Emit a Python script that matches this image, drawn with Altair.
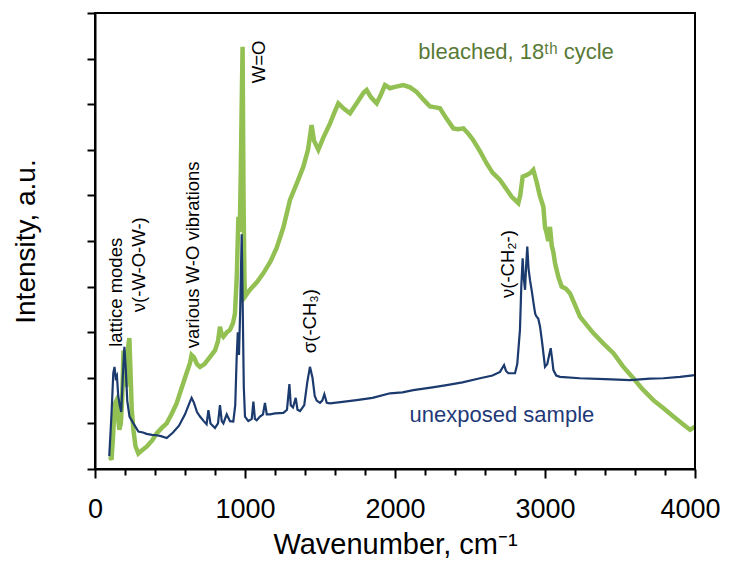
import altair as alt
import pandas as pd

# unexposed sample (navy)
blue_wn = [95,110,122,130,138,146,155,165,175,185,196,205,215,230,256,289,320,344,380,411,440,478,520,560,600,630,644,660,680,700,725,744,756,770,800,820,833,845,856,878,900,922,935,944,952,960,968,978,985,992,1000,1022,1045,1056,1066,1078,1100,1120,1133,1145,1167,1200,1256,1280,1296,1305,1320,1338,1350,1367,1395,1415,1433,1450,1465,1478,1500,1515,1529,1545,1567,1650,1744,1850,1967,2050,2122,2250,2344,2450,2567,2650,2700,2727,2740,2756,2800,2815,2833,2842,2851,2858,2867,2875,2882,2890,2900,2912,2927,2935,2944,2955,2967,2980,3000,3015,3028,3038,3048,3056,3075,3100,3233,3400,3567,3700,3789,3900,4000]
blue_v = [0.28,1.2,2.1,2.24,2.0,2.05,1.6,1.4,1.25,2.0,2.68,2.2,1.5,1.15,1.0,0.82,0.8,0.77,0.75,0.74,0.72,0.68,0.8,0.95,1.2,1.45,1.56,1.45,1.25,1.15,1.05,0.98,1.29,1.0,0.9,1.0,1.4,1.05,1.0,1.2,1.05,1.04,1.4,2.4,3.0,2.5,3.5,5.15,3.5,1.8,1.15,1.05,1.1,1.48,1.1,1.07,1.15,1.2,1.45,1.2,1.2,1.22,1.23,1.3,1.86,1.4,1.35,1.56,1.3,1.27,1.4,1.9,2.24,2.0,1.6,1.5,1.45,1.5,1.64,1.45,1.44,1.47,1.51,1.56,1.66,1.68,1.73,1.79,1.84,1.9,1.99,2.05,2.13,2.28,2.15,2.1,2.1,2.3,3.05,4.0,4.62,4.2,3.93,4.5,4.88,4.4,4.14,3.9,3.56,3.4,3.34,3.3,3.12,2.8,2.24,2.3,2.5,2.65,2.4,2.17,2.05,2.02,1.99,1.97,1.95,1.98,1.99,2.02,2.06]

# bleached, 18th cycle (green)
green_wn = [100,110,120,127,135,144,152,162,172,182,190,198,208,215,222,229,236,245,256,270,289,310,344,380,411,445,478,510,544,570,600,633,644,660,680,700,730,767,800,820,833,845,856,880,900,920,933,945,956,965,972,978,984,990,996,1000,1033,1080,1122,1170,1211,1256,1300,1350,1389,1420,1444,1460,1489,1520,1567,1600,1622,1660,1700,1750,1790,1811,1840,1878,1905,1933,1967,2000,2056,2100,2144,2190,2233,2270,2300,2340,2389,2420,2456,2490,2522,2570,2611,2650,2700,2740,2778,2800,2822,2835,2851,2880,2905,2922,2944,2965,2989,3000,3011,3022,3033,3045,3056,3067,3090,3111,3140,3167,3200,3233,3280,3322,3390,3456,3520,3589,3650,3722,3790,3856,3920,3967,4000]
green_v = [0.27,0.2,0.7,1.15,1.45,1.51,1.2,0.86,1.0,1.6,2.6,2.3,1.8,2.2,2.7,2.87,2.2,1.3,0.86,0.5,0.34,0.4,0.49,0.62,0.78,0.9,1.0,1.2,1.44,1.7,2.0,2.32,2.5,2.45,2.3,2.24,2.3,2.46,2.6,2.8,3.12,2.95,2.9,3.0,3.05,3.2,3.41,4.2,5.53,5.2,6.5,8.0,9.26,6.0,4.2,3.78,3.93,4.1,4.29,4.55,4.85,5.3,5.9,6.3,6.63,7.0,7.54,7.2,7.0,7.25,7.58,7.85,8.02,7.9,7.8,8.05,8.25,8.31,8.15,8.02,8.2,8.42,8.35,8.38,8.42,8.37,8.27,8.1,7.95,7.93,7.91,7.7,7.47,7.45,7.47,7.35,7.21,6.95,6.7,6.5,6.34,6.15,5.97,5.9,5.83,6.0,6.41,6.45,6.5,6.56,6.3,6.0,5.75,5.3,5.17,5.0,5.31,4.9,4.75,4.51,4.2,4.0,3.95,3.85,3.6,3.34,3.15,2.98,2.75,2.54,2.25,1.99,1.75,1.51,1.33,1.15,0.98,0.86,0.93]

# rotated peak annotations (anchor = lower end of text)
ann_text = ["lattice modes", "\u03bd(-W-O-W-)", "various W-O vibrations", "W=O", "\u03c3(-CH\u2083)", "\u03bd(-CH\u2082-)"]
ann_wn = [140, 290, 653, 1093, 1433, 2753]
ann_v = [2.68, 3.44, 2.65, 8.46, 2.54, 3.75]

# series labels
lab_text = ["bleached, 18\u1d57\u02b0 cycle", "unexposed sample"]
lab_wn = [2807, 2713]
lab_v = [9.14, 1.18]
lab_color = ["#587a35", "#1f3a78"]

# frame corners (axis extents)
frame_x = [0, 4000]
frame_y = [0, 10]

x_ticks = list(range(0, 4001, 200))
y_ticks = list(range(0, 11))

FONT = "Liberation Sans"

xax = alt.Axis(
    values=x_ticks,
    labelExpr="datum.value % 1000 === 0 ? datum.label : ''",
    format="d",
    title="Wavenumber,  cm\u207b\u00b9",
    titleFontSize=29, titleFontWeight="normal", titleFont=FONT, titleColor="black", titlePadding=8,
    labelFontSize=27, labelFont=FONT, labelColor="black", labelPadding=18,
    labelFlush=False, labelOverlap=False,
    labelOffset={"condition": {"test": "datum.value === 4000", "value": -5}, "value": 0},
    tickSize={"condition": {"test": "datum.value % 1000 === 0", "value": 9}, "value": 6},
    tickColor="black", tickWidth=2, domainColor="black", domainWidth=2, grid=False,
)
yax = alt.Axis(
    values=y_ticks, labels=False,
    title="Intensity,  a.u.",
    titleFontSize=28, titleFontWeight="normal", titleFont=FONT, titleColor="black", titlePadding=46,
    tickSize=8, tickColor="black", tickWidth=2, domainColor="black", domainWidth=2, grid=False,
)
xs = alt.Scale(domain=[0, 4000], nice=False)
ys = alt.Scale(domain=[0, 10], nice=False)

blue_df = pd.DataFrame({"wn": blue_wn, "v": blue_v})
green_df = pd.DataFrame({"wn": green_wn, "v": green_v})
ann_df = pd.DataFrame({"wn": ann_wn, "v": ann_v, "t": ann_text})
lab_df = pd.DataFrame({"wn": lab_wn, "v": lab_v, "t": lab_text, "c": lab_color})
frame_df = pd.DataFrame({"wn": [frame_x[0]], "wn2": [frame_x[1]], "v": [frame_y[0]], "v2": [frame_y[1]]})

X = alt.X("wn:Q", scale=xs, axis=xax)
Y = alt.Y("v:Q", scale=ys, axis=yax)

frame = alt.Chart(frame_df).mark_rect(filled=False, stroke="black", strokeWidth=2).encode(
    x=X, x2="wn2:Q", y=Y, y2="v2:Q")
blue = alt.Chart(blue_df).mark_line(color="#1b3a6e", strokeWidth=2.2, clip=True).encode(x=X, y=Y, order="wn:Q")
green = alt.Chart(green_df).mark_line(color="#93c052", strokeWidth=4.5, clip=True).encode(x=X, y=Y, order="wn:Q")
ann = alt.Chart(ann_df).mark_text(angle=270, align="left", baseline="middle", fontSize=18.5, font=FONT, color="black").encode(x=X, y=Y, text="t:N")
labs = alt.Chart(lab_df).mark_text(align="center", baseline="middle", fontSize=22, font=FONT).encode(
    x=X, y=Y, text="t:N", color=alt.Color("c:N", scale=None))

chart = alt.layer(green, blue, ann, labs, frame).properties(
    width=600, height=456,
    autosize=alt.AutoSizeParams(type="none"),
    padding={"left": 87, "top": 5, "right": 28, "bottom": 90},
    background="white",
).configure_view(stroke="black", strokeWidth=2)

chart.save("out.html", embed_options={"renderer": "svg", "actions": False})
